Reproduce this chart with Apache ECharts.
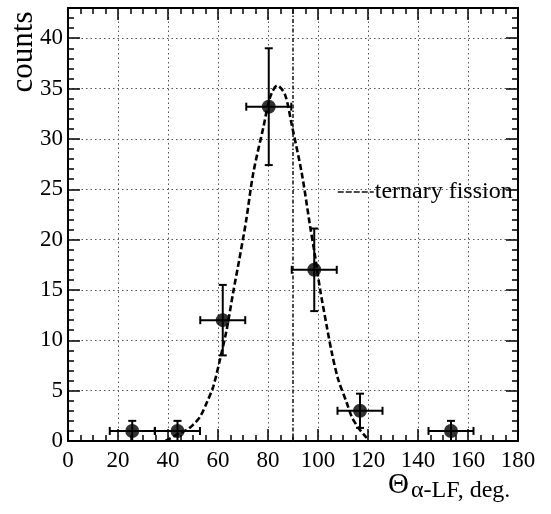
<!DOCTYPE html>
<html>
<head>
<meta charset="utf-8">
<script src="https://cdn.jsdelivr.net/npm/echarts@6/dist/echarts.min.js"></script>
<style>html,body{margin:0;padding:0;background:#fff}#c{width:551px;height:514px}</style>
</head>
<body>
<div id="c"></div>
<script>
// Data
const xCenters = [25.7, 43.8, 61.9, 80.3, 98.5, 116.8, 153.2];
const counts   = [1, 1, 12, 33.2, 17, 3, 1];
const xErr     = [9, 9, 9, 9, 9, 9, 9];
const yErr     = [1, 1, 3.5, 5.8, 4.1, 1.7, 1];
const fitX = [39, 44.8, 47.5, 50, 52.8, 55.5, 58.1, 60.8, 63.5, 66.1, 68.5, 71.2, 74.1, 78.1, 80.8, 83.7, 86.8, 89.5, 93.5, 96.8, 98.8, 100.8, 103.5, 105.5, 108.1, 111.5, 113.5, 116.2, 119.5];
const fitY = [0, 0.8, 1.1, 1.6, 2.4, 3.8, 5.4, 8.1, 11.1, 14.8, 18, 21.8, 26.6, 31.1, 34.1, 35.3, 34.4, 31.4, 26.6, 21.4, 18.4, 15.1, 11.4, 8.8, 6.1, 3.8, 2.4, 1.3, 0.3];
const fissionAngle = 90;
const xTicks = {min: 0, max: 180, step: 20};
const yTicks = {min: 0, max: 43, step: 5};

const FONT = 'Liberation Serif';
const chart = echarts.init(document.getElementById('c'), null, {renderer: 'canvas'});

const pts = xCenters.map((x, i) => [x, counts[i], xErr[i], yErr[i]]);
const fit = fitX.map((x, i) => [x, fitY[i]]);

function axisX(pos, labels) {
  return {
    type: 'value', position: pos, min: xTicks.min, max: xTicks.max, interval: xTicks.step,
    axisLine: {show: true, onZero: false, lineStyle: {color: '#000', width: 2}},
    axisTick: {show: true, inside: true, length: 12, lineStyle: {color: '#000', width: 1.5}},
    minorTick: {show: true, splitNumber: 4, length: 6, lineStyle: {color: '#000', width: 1.5}},
    axisLabel: {show: labels, color: '#000', fontFamily: FONT, fontSize: 23, margin: 8},
    splitLine: {show: labels, lineStyle: {type: [1.5, 3], color: '#555', width: 1}}
  };
}
function axisY(pos, interval, len, labels, split) {
  return {
    type: 'value', position: pos, min: yTicks.min, max: yTicks.max, interval: interval,
    axisLine: {show: labels || pos === 'right', onZero: false, lineStyle: {color: '#000', width: 2}},
    axisTick: {show: true, inside: true, length: len, lineStyle: {color: '#000', width: 1.5}},
    axisLabel: {show: labels, color: '#000', fontFamily: FONT, fontSize: 23, margin: 5, showMaxLabel: false,
      formatter: v => (v % 5 === 0 ? String(v) : '')},
    splitLine: {show: split, lineStyle: {type: [1.5, 3], color: '#555', width: 1}}
  };
}

chart.setOption({
  animation: false,
  backgroundColor: '#fff',
  grid: {left: 68, right: 33, top: 8, bottom: 73, containLabel: false},
  xAxis: [axisX('bottom', true), axisX('top', false)],
  yAxis: [
    axisY('left', yTicks.step, 12, true, true),
    axisY('left', 1, 6, false, false),
    axisY('right', yTicks.step, 12, false, false),
    axisY('right', 1, 6, false, false)
  ],
  legend: {
    show: true, data: ['ternary fission'], left: 332, top: 175,
    itemWidth: 36, itemHeight: 10, itemGap: 0,
    itemStyle: {opacity: 0},
    lineStyle: {color: '#111', width: 1.5, type: [6, 2]},
    textStyle: {fontFamily: FONT, fontSize: 24, color: '#000', padding: [0, 0, 0, -4]}
  },
  series: [
    {
      name: 'ternary fission', type: 'line', symbol: 'none', silent: true,
      data: [[fissionAngle, yTicks.min], [fissionAngle, yTicks.max]],
      itemStyle: {color: '#111'},
      lineStyle: {color: '#111', width: 1.5, type: [4, 2, 1.5, 2]}, z: 3
    },
    {
      name: 'fit', type: 'line', symbol: 'none', smooth: 0.3, silent: true,
      data: fit,
      lineStyle: {color: '#000', width: 2.6, type: [6, 3]}, z: 4
    },
    {
      name: 'errors', type: 'custom', silent: true, z: 5,
      data: pts,
      renderItem: function (params, api) {
        const x = api.value(0), y = api.value(1), ex = api.value(2), ey = api.value(3);
        const l = api.coord([x - ex, y]), r = api.coord([x + ex, y]);
        const t = api.coord([x, y + ey]), b = api.coord([x, Math.max(0, y - ey)]);
        const st = {stroke: '#000', lineWidth: 2};
        const cap = 4;
        return {type: 'group', children: [
          {type: 'line', shape: {x1: l[0], y1: l[1], x2: r[0], y2: r[1]}, style: st},
          {type: 'line', shape: {x1: l[0], y1: l[1] - cap, x2: l[0], y2: l[1] + cap}, style: st},
          {type: 'line', shape: {x1: r[0], y1: r[1] - cap, x2: r[0], y2: r[1] + cap}, style: st},
          {type: 'line', shape: {x1: t[0], y1: t[1], x2: b[0], y2: b[1]}, style: st},
          {type: 'line', shape: {x1: t[0] - cap, y1: t[1], x2: t[0] + cap, y2: t[1]}, style: st},
          {type: 'line', shape: {x1: b[0] - cap, y1: b[1], x2: b[0] + cap, y2: b[1]}, style: st}
        ]};
      }
    },
    {
      name: 'data', type: 'scatter', symbol: 'circle', symbolSize: 14, silent: true, z: 6,
      data: pts.map(p => [p[0], p[1]]),
      itemStyle: {color: '#000'}
    }
  ],
  graphic: [
    {type: 'text', x: 24, y: 52, rotation: Math.PI / 2, style: {text: 'counts', font: '31px ' + FONT, fill: '#000', align: 'center', verticalAlign: 'middle'}},
    {type: 'text', x: 388, y: 471, style: {text: 'Θ', font: '29px ' + FONT, fill: '#000'}},
    {type: 'text', x: 411, y: 479, style: {text: 'α-LF, deg.', font: '24px ' + FONT, fill: '#000'}}
  ]
});
</script>
</body>
</html>
